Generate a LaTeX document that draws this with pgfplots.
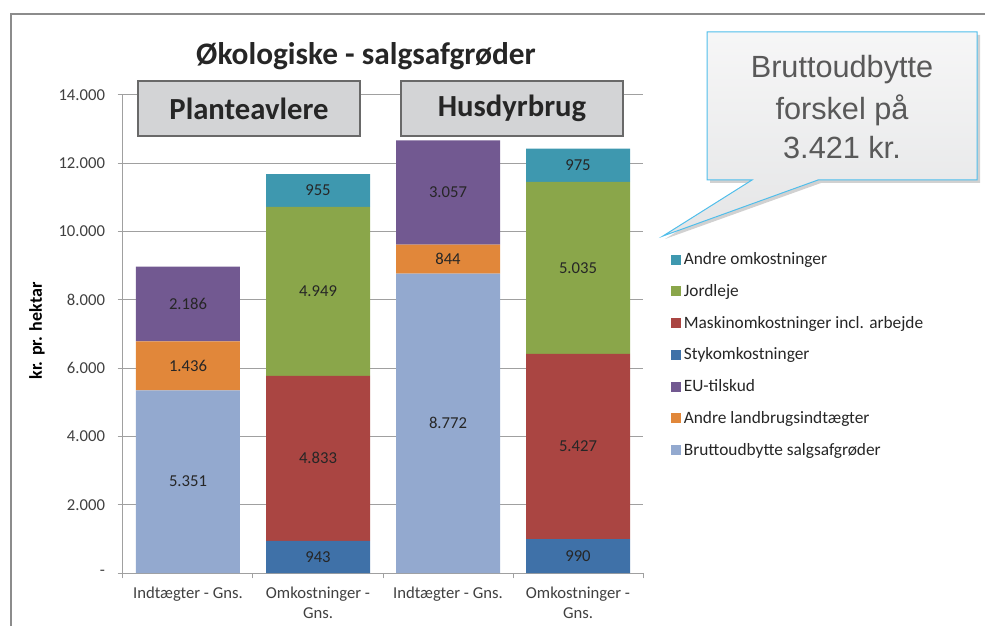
\documentclass[border=0pt]{standalone}
\usepackage{pgfplots}
\pgfplotsset{compat=1.18}
\usepackage{fontspec}
\setmainfont{Carlito}
\newfontfamily\arialf{Liberation Sans}
\definecolor{cBrutto}{RGB}{147,169,207}
\definecolor{cAndreL}{RGB}{225,135,58}
\definecolor{cEU}{RGB}{114,89,145}
\definecolor{cStyk}{RGB}{63,113,168}
\definecolor{cMaskin}{RGB}{170,69,66}
\definecolor{cJord}{RGB}{138,166,74}
\definecolor{cAndreO}{RGB}{62,152,175}
\definecolor{gridc}{RGB}{160,160,160}
\definecolor{framec}{RGB}{140,140,140}
\definecolor{tickc}{RGB}{64,64,64}
\definecolor{labc}{RGB}{38,38,38}
\definecolor{boxfill}{RGB}{211,212,214}
\definecolor{boxdraw}{RGB}{105,105,105}
\definecolor{callb}{RGB}{80,190,235}
\definecolor{callt}{RGB}{89,89,89}
\begin{document}
\begin{tikzpicture}
\begin{scope}[x=0.75pt,y=0.75pt]
\useasboundingbox (0,0) rectangle (985,626);
\draw[framec, line width=1.5pt] (10.5,0) -- (10.5,612) -- (985,612);
\end{scope}
\begin{axis}[
  at={(92.25pt,39.75pt)}, anchor=south west,
  scale only axis, width=390pt, height=358.5pt,
  ybar stacked, bar width=0.8,
  xmin=-0.5, xmax=3.5, ymin=0, ymax=14000,
  scaled y ticks=false,
  axis x line=bottom, axis y line=left,
  axis line style={-, draw=gridc, line width=0.75pt},
  tick align=outside,
  ytick={0,2000,...,14000},
  yticklabels={-,2.000,4.000,6.000,8.000,10.000,12.000,14.000},
  yticklabel style={font=\fontsize{12.5}{15}\selectfont, text=tickc, xshift=-6pt},
  ytick style={draw=gridc, line width=0.75pt},
  major tick length=4pt,
  ymajorgrids, grid style={draw=gridc, line width=0.75pt},
  xtick={-0.5,0.5,1.5,2.5,3.5},
  xticklabels={},
  xtick style={draw=gridc, line width=0.75pt},
  extra x ticks={0,1,2,3},
  extra x tick labels={Indtægter - Gns.,{Omkostninger -\\Gns.},Indtægter - Gns.,{Omkostninger -\\Gns.}},
  extra x tick style={major tick length=0pt, xmajorgrids=false,
     xticklabel style={font=\fontsize{12.5}{15}\selectfont, text=tickc, align=center, yshift=-7.25pt}},
  point meta=rawy,
  nodes near coords={\pgfmathfloatifflags{\pgfplotspointmeta}{0}{}{\pgfmathprintnumber{\pgfplotspointmeta}}},
  every node near coord/.append style={anchor=center,
     font=\fontsize{12.5}{15}\selectfont, text=labc},
  /pgf/number format/.cd, fixed, precision=0, 1000 sep={.}, assume math mode=true,
  /pgfplots/.cd,
  legend image code/.code={\path[#1,draw=none] (0pt,-3.75pt) rectangle (7.5pt,3.75pt);},
  reverse legend,
  legend style={at={(1.046,0.682)}, anchor=north west, draw=none, fill=none,
     font=\fontsize{13}{15}\selectfont, text=labc, row sep=9.3pt,
     cells={anchor=west}},
]
\addplot[fill=cBrutto, draw=none] coordinates {(0,5351) (1,0) (2,8772) (3,0)};
\addlegendentry{Bruttoudbytte salgsafgrøder}
\addplot[fill=cAndreL, draw=none] coordinates {(0,1436) (1,0) (2,844) (3,0)};
\addlegendentry{Andre landbrugsindtægter}
\addplot[fill=cEU, draw=none] coordinates {(0,2186) (1,0) (2,3057) (3,0)};
\addlegendentry{EU-tilskud}
\addplot[fill=cStyk, draw=none] coordinates {(0,0) (1,943) (2,0) (3,990)};
\addlegendentry{Stykomkostninger}
\addplot[fill=cMaskin, draw=none] coordinates {(0,0) (1,4833) (2,0) (3,5427)};
\addlegendentry{Maskinomkostninger incl. arbejde}
\addplot[fill=cJord, draw=none] coordinates {(0,0) (1,4949) (2,0) (3,5035)};
\addlegendentry{Jordleje}
\addplot[fill=cAndreO, draw=none] coordinates {(0,0) (1,955) (2,0) (3,975)};
\addlegendentry{Andre omkostninger}
\end{axis}
\begin{scope}[x=0.75pt,y=0.75pt]
\node[font=\fontsize{23.5}{28}\selectfont\bfseries, text=labc] at (366,570) {Økologiske - salgsafgrøder};
\node[rotate=90, font=\fontsize{13.5}{16}\selectfont\bfseries, text=black] at (37,295) {kr. pr. hektar};
\draw[fill=boxfill, draw=boxdraw, line width=1.2pt] (138,545) rectangle (360,490);
\node[font=\fontsize{23}{28}\selectfont\bfseries, text=labc] at (249,517.5) {Planteavlere};
\draw[fill=boxfill, draw=boxdraw, line width=1.2pt] (401,545) rectangle (623,490);
\node[font=\fontsize{23}{28}\selectfont\bfseries, text=labc] at (512,517.5) {Husdyrbrug};
\fill[black, opacity=0.18] (710,591) -- (980,591) -- (980,443) -- (821,443) -- (665,387) -- (755,443) -- (710,443) -- cycle;
\path[top color=white!50!boxfill!40, bottom color=boxfill!60, draw=callb, line width=0.75pt]
  (707,594) -- (977,594) -- (977,446) -- (818,446) -- (663,390) -- (752,446) -- (707,446) -- cycle;
\node[font=\arialf\fontsize{23}{28}\selectfont, text=callt] at (842,556) {Bruttoudbytte};
\node[font=\arialf\fontsize{23}{28}\selectfont, text=callt] at (842,516) {forskel på};
\node[font=\arialf\fontsize{23}{28}\selectfont, text=callt] at (842,478) {3.421 kr.};
\end{scope}
\end{tikzpicture}
\end{document}
